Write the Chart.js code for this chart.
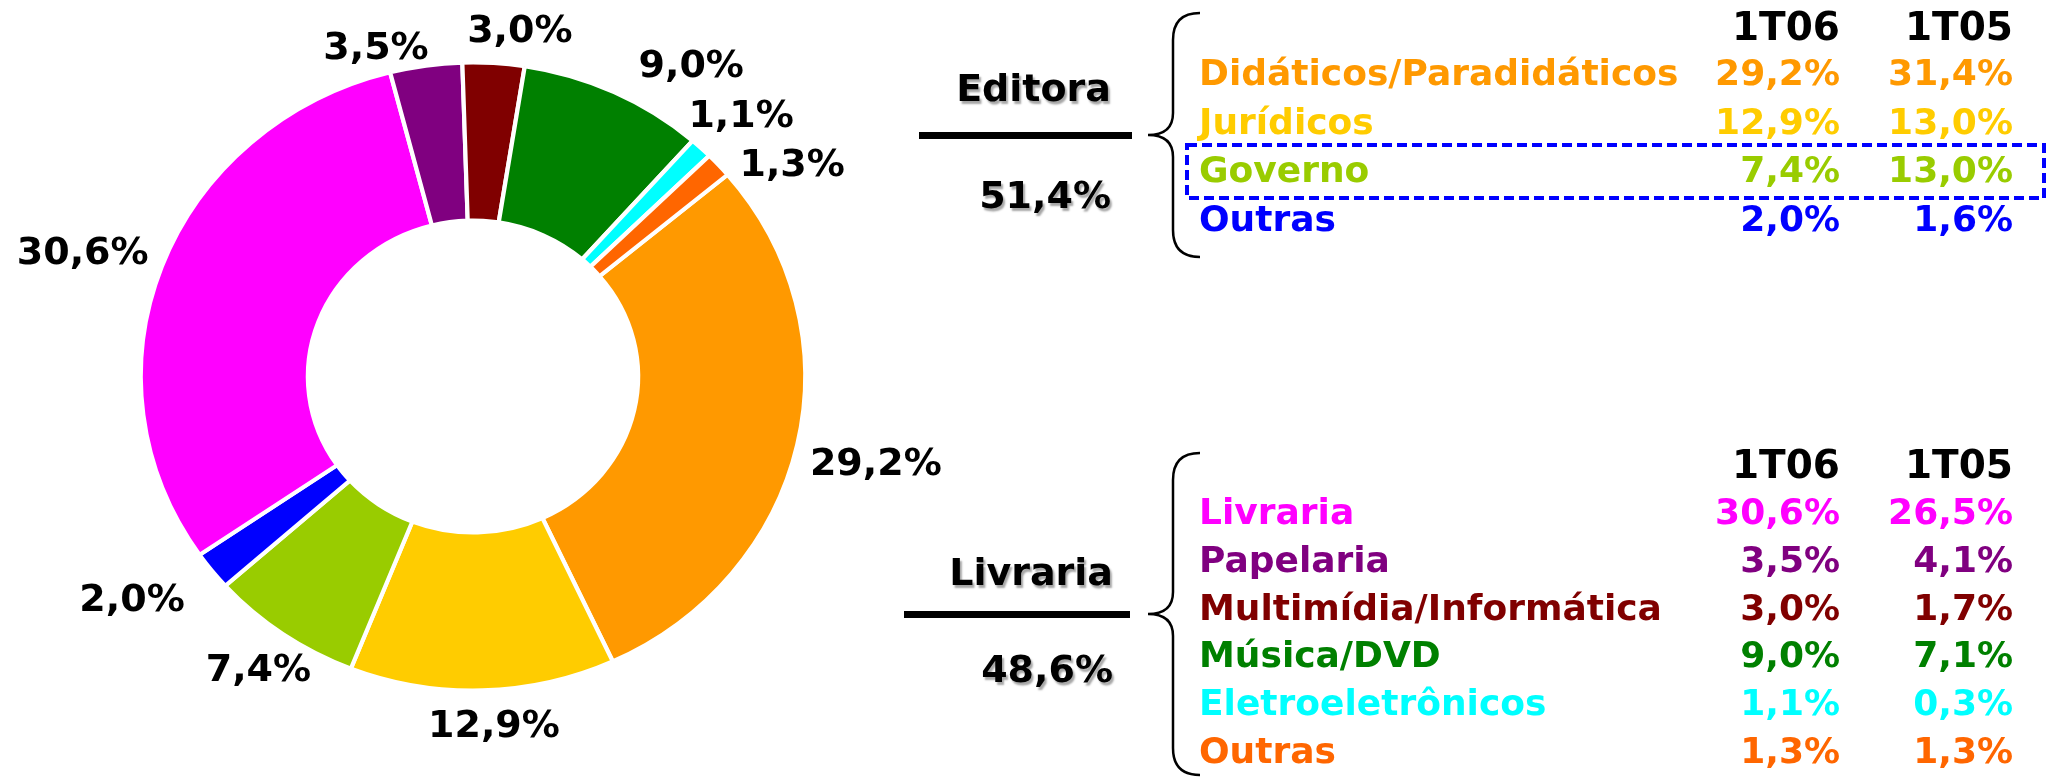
<!DOCTYPE html>
<html>
<head>
<meta charset="utf-8">
<script src="https://cdn.jsdelivr.net/npm/chart.js@4.4.1/dist/chart.umd.min.js"></script>
<style>
  html, body { margin: 0; padding: 0; background: #fff; }
  body { width: 2060px; height: 782px; position: relative; overflow: hidden;
         font-family: "DejaVu Sans", Verdana, sans-serif; font-weight: bold; }
  #pie { position: absolute; left: 0; top: 0; width: 960px; height: 782px; }
  #deco { position: absolute; left: 0; top: 0; }
  .t { position: absolute; white-space: nowrap; line-height: 44px; height: 44px; }
  .shadow { text-shadow: 2px 3px 2px rgba(0,0,0,0.35); }
</style>
</head>
<body>
<div id="pie"><canvas id="donut"></canvas></div>
<svg id="deco" width="2060" height="782">
  <!-- braces and separator bars -->
  <path d="M1200 13 Q1173 13 1173 40 L1173 113 Q1173 135 1148 135 Q1173 135 1173 157 L1173 230 Q1173 257 1200 257"
        fill="none" stroke="#000" stroke-width="2.5"/>
  <path d="M1200 453 Q1173 453 1173 480 L1173 592 Q1173 614 1148 614 Q1173 614 1173 636 L1173 748 Q1173 775 1200 775"
        fill="none" stroke="#000" stroke-width="2.5"/>
  <rect x="919" y="132" width="213" height="7" fill="#000"/>
  <rect x="904" y="611" width="226" height="7" fill="#000"/>
  <rect x="1187" y="145" width="857" height="53" fill="none" stroke="#0000FF" stroke-width="4" stroke-dasharray="10 5"/>
</svg>
<div id="tables"></div>
<script>
// groups and periods
const groups = ['Editora', 'Livraria'];
const groupShares = [51.4, 48.6];
const periods = ['1T06', '1T05'];

// Editora
const editoraCats = ['Didáticos/Paradidáticos', 'Jurídicos', 'Governo', 'Outras'];
const editora1T06 = [29.2, 12.9, 7.4, 2.0];
const editora1T05 = [31.4, 13.0, 13.0, 1.6];
const editoraColors = ['#FF9900', '#FFCC00', '#99CC00', '#0000FF'];

// Livraria
const livrariaCats = ['Livraria', 'Papelaria', 'Multimídia/Informática', 'Música/DVD', 'Eletroeletrônicos', 'Outras'];
const livraria1T06 = [30.6, 3.5, 3.0, 9.0, 1.1, 1.3];
const livraria1T05 = [26.5, 4.1, 1.7, 7.1, 0.3, 1.3];
const livrariaColors = ['#FF00FF', '#800080', '#800000', '#008000', '#00FFFF', '#FF6600'];

const donutLabels = editoraCats.concat(livrariaCats);
const donutValues = editora1T06.concat(livraria1T06);
const donutColors = editoraColors.concat(livrariaColors);

function fmt(v) { return v.toFixed(1).replace('.', ',') + '%'; }

// ring is a bit wider than tall in the original
const stretchX = 1.058;
// label placement tweaks: [angle shift in degrees, gap from ring in px]
const labelNudge = [[0, 15], [-1.7, 17], [0, 1], [3.7, 30], [-1.5, 15],
                    [-7.7, 4], [3.9, 18], [8.4, 23], [0.5, 8], [6.8, 9]];

const outsideLabels = {
    id: 'outsideLabels',
    beforeDatasetsDraw(chart) {
        const a = chart.getDatasetMeta(0).data[0];
        const ctx = chart.ctx;
        ctx.save();
        ctx.translate(a.x, 0);
        ctx.scale(stretchX, 1);
        ctx.translate(-a.x, 0);
    },
    afterDatasetsDraw(chart) {
        chart.ctx.restore();
    },
    afterDraw(chart) {
        const ctx = chart.ctx;
        ctx.save();
        ctx.font = 'bold 38px "DejaVu Sans"';
        ctx.fillStyle = '#000';
        ctx.textAlign = 'center';
        ctx.textBaseline = 'alphabetic';
        chart.getDatasetMeta(0).data.forEach(function(a, i) {
            const mid = (a.startAngle + a.endAngle) / 2;
            let ang = Math.atan2(Math.sin(mid), Math.cos(mid) * stretchX);
            ang += labelNudge[i][0] * Math.PI / 180;
            const ux = Math.cos(ang), uy = Math.sin(ang);
            const R = a.outerRadius - 2;
            const rE = 1 / Math.sqrt(Math.pow(ux / (R * stretchX), 2) + Math.pow(uy / R, 2));
            const text = fmt(donutValues[i]);
            const w = ctx.measureText(text).width, h = 28;
            const d = rE + labelNudge[i][1] + Math.abs(ux) * w / 2 + Math.abs(uy) * h / 2;
            ctx.fillText(text, a.x + ux * d, a.y + uy * d + 14);
        });
        ctx.restore();
    }
};

new Chart(document.getElementById('donut'), {
    type: 'doughnut',
    data: {
        labels: donutLabels,
        datasets: [{
            data: donutValues,
            backgroundColor: donutColors,
            borderColor: '#ffffff',
            borderWidth: 4,
            clip: false
        }]
    },
    options: {
        responsive: true,
        maintainAspectRatio: false,
        animation: false,
        rotation: 50,
        cutout: '49.7%',
        radius: 314,
        layout: { padding: { left: 0, right: 14, top: 0, bottom: 29 } },
        plugins: { legend: { display: false }, tooltip: { enabled: false } }
    },
    plugins: [outsideLabels]
});

// right side text
const host = document.getElementById('tables');
function addText(txt, x, y, color, size, align, cls) {
    const el = document.createElement('div');
    el.className = 't' + (cls ? ' ' + cls : '');
    el.textContent = txt;
    el.style.color = color;
    el.style.fontSize = size + 'px';
    el.style.top = (y - 21) + 'px';
    if (align === 'right') el.style.right = (2060 - x) + 'px';
    else el.style.left = x + 'px';
    host.appendChild(el);
}

const col0 = 1199, col1 = 1840, col2 = 2013;
function buildTable(cats, cur, prev, colors, headerY, firstY, step) {
    addText(periods[0], col1, headerY, '#000', 39, 'right');
    addText(periods[1], col2, headerY, '#000', 39, 'right');
    cats.forEach(function(c, i) {
        const y = firstY + i * step;
        addText(c, col0, y, colors[i], 36, 'left');
        addText(fmt(cur[i]), col1, y, colors[i], 36, 'right');
        addText(fmt(prev[i]), col2, y, colors[i], 36, 'right');
    });
}
buildTable(editoraCats, editora1T06, editora1T05, editoraColors, 26, 72, 48.7);
buildTable(livrariaCats, livraria1T06, livraria1T05, livrariaColors, 464, 511, 47.8);

addText(groups[0], 1111, 87, '#000', 38, 'right', 'shadow');
addText(fmt(groupShares[0]), 1111, 194, '#000', 38, 'right', 'shadow');
addText(groups[1], 1113, 571, '#000', 38, 'right', 'shadow');
addText(fmt(groupShares[1]), 1113, 668, '#000', 38, 'right', 'shadow');
</script>
</body>
</html>
